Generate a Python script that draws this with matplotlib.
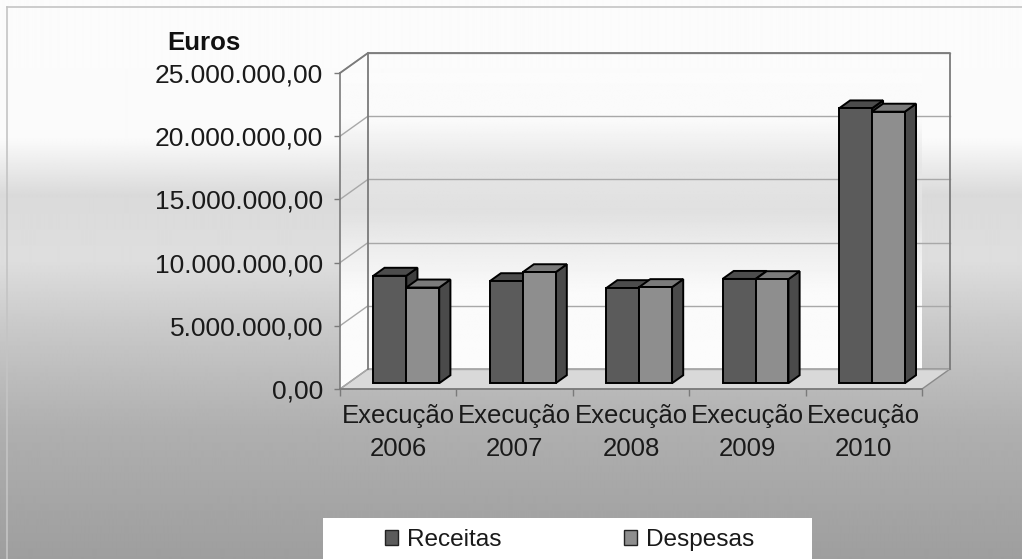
import numpy as np
import matplotlib
matplotlib.use("Agg")
import matplotlib.pyplot as plt
from matplotlib.patches import Polygon, Rectangle, Patch
from matplotlib.ticker import FuncFormatter, FixedLocator

plt.rcParams['font.family'] = ['Liberation Sans', 'DejaVu Sans']

# ---- data ----
categories = ["Execução\n2006", "Execução\n2007", "Execução\n2008", "Execução\n2009", "Execução\n2010"]
receitas = [8.50e6, 8.07e6, 7.52e6, 8.25e6, 21.74e6]
despesas = [7.57e6, 8.78e6, 7.60e6, 8.23e6, 21.48e6]
series_names = ["Receitas", "Despesas"]
yticks = [0, 5e6, 10e6, 15e6, 20e6, 25e6]

# ---- style ----
W, H = 1022, 559
fig = plt.figure(figsize=(W / 100, H / 100), dpi=100)

# figure background gradient
bg = fig.add_axes([0, 0, 1, 1], zorder=-10)
ys = np.arange(H)
prof = np.interp(ys, [0, 140, 195, 260, 330, 430, 559], [252, 250, 218, 222, 200, 175, 158])
img = np.repeat(prof[:, None], 4, axis=1)
bg.imshow(img, cmap='gray', vmin=0, vmax=255, aspect='auto', extent=[0, 1, 0, 1], interpolation='bilinear')
bg.plot([7 / W, 1], [1 - 7 / H, 1 - 7 / H], color='#c4c4c4', lw=1.2, transform=bg.transAxes)
bg.plot([7 / W, 7 / W], [0, 1 - 7 / H], color='#c4c4c4', lw=1.2, transform=bg.transAxes)
bg.set_xlim(0, 1); bg.set_ylim(0, 1)
bg.axis('off')

ax = fig.add_axes([340 / W, (H - 389) / H, 582 / W, 316 / H])
ax.set_facecolor('none')
ymax = 25e6
n = len(categories)
x_lo, x_hi = -0.5, n - 0.5
Dx, Dy = 0.24, 1.58e6        # full depth of the 3-D box
f0, fd = 0.29, 0.40          # bar front plane / bar depth as fraction of box depth
w = 0.283                    # bar width

# walls gradient (clipped to back + side wall)
wall = Polygon([(x_lo, 0), (x_lo + Dx, Dy), (x_hi + Dx, Dy), (x_hi + Dx, ymax + Dy),
                (x_lo + Dx, ymax + Dy), (x_lo, ymax)], closed=True, facecolor='none',
               edgecolor='none', transform=ax.transData, clip_on=False)
ax.add_patch(wall)
vals = np.linspace(ymax + Dy, 0, 300)
wprof = np.interp(vals, [0, 7.8e6, 11.4e6, 14.2e6, 17.7e6, 21.3e6, 27e6],
                  [252, 250, 236, 224, 230, 250, 252])
wim = ax.imshow(np.repeat(wprof[:, None], 4, axis=1), cmap='gray', vmin=0, vmax=255,
                aspect='auto', extent=[x_lo, x_hi + Dx, 0, ymax + Dy], interpolation='bilinear',
                zorder=0)
wim.set_clip_path(wall)

# floor
ax.add_patch(Polygon([(x_lo, 0), (x_hi, 0), (x_hi + Dx, Dy), (x_lo + Dx, Dy)], closed=True,
                     facecolor='#d9d9d9', edgecolor='#8a8a8a', lw=1.0, clip_on=False, zorder=1))

# gridlines
for v in yticks:
    ax.plot([x_lo + Dx, x_hi + Dx], [v + Dy, v + Dy], color='#a8a8a8', lw=1.0, clip_on=False, zorder=1)
    ax.plot([x_lo, x_lo + Dx], [v, v + Dy], color='#a8a8a8', lw=1.0, clip_on=False, zorder=1)
ax.plot([x_lo + Dx, x_lo + Dx, x_hi + Dx, x_hi + Dx], [Dy, ymax + Dy, ymax + Dy, Dy],
        color='#7a7a7a', lw=1.3, clip_on=False, zorder=1)
ax.plot([x_lo, x_lo + Dx], [ymax, ymax + Dy], color='#7a7a7a', lw=1.3, clip_on=False, zorder=1)

# bars
colors = {
    0: dict(front='#5b5b5b', top='#4c4c4c', side='#3e3e3e'),
    1: dict(front='#8e8e8e', top='#7a7a7a', side='#4a4a4a'),
}
ddx, ddy = fd * Dx, fd * Dy
z = 3
for i in range(n):
    c = i + f0 * Dx
    y0 = f0 * Dy
    for s, data in enumerate([receitas, despesas]):
        v = data[i]
        x0 = c - w + s * w
        col = colors[s]
        kw = dict(edgecolor='black', lw=1.4, clip_on=False, joinstyle='miter')
        ax.add_patch(Polygon([(x0 + w, y0), (x0 + w + ddx, y0 + ddy), (x0 + w + ddx, y0 + v + ddy),
                              (x0 + w, y0 + v)], closed=True, facecolor=col['side'], zorder=z, **kw))
        ax.add_patch(Polygon([(x0, y0 + v), (x0 + w, y0 + v), (x0 + w + ddx, y0 + v + ddy),
                              (x0 + ddx, y0 + v + ddy)], closed=True, facecolor=col['top'], zorder=z, **kw))
        ax.add_patch(Rectangle((x0, y0), w, v, facecolor=col['front'], zorder=z, **kw))
        z += 1

ax.set_xlim(x_lo, x_hi)
ax.set_ylim(0, ymax)
for sp in ['top', 'right']:
    ax.spines[sp].set_visible(False)
ax.spines['left'].set_color('#7a7a7a')
ax.spines['bottom'].set_color('#7a7a7a')
ax.spines['left'].set_linewidth(1.2)
ax.spines['bottom'].set_linewidth(1.2)

ax.set_yticks(yticks)
ax.yaxis.set_major_formatter(FuncFormatter(
    lambda v, p: f"{v:,.2f}".replace(',', 'X').replace('.', ',').replace('X', '.')))
ax.tick_params(axis='y', length=4, width=1, color='#7a7a7a', pad=8, labelsize=19, labelcolor='#1a1a1a')

ax.set_xticks(range(n))
ax.set_xticklabels(categories, linespacing=1.45)
ax.tick_params(axis='x', which='major', length=0, pad=11, labelsize=18.5, labelcolor='#1a1a1a')
ax.xaxis.set_minor_locator(FixedLocator(np.arange(x_lo, x_hi + 0.01, 1.0)))
ax.tick_params(axis='x', which='minor', length=5, width=1, color='#7a7a7a')

fig.text(167 / W, 1 - 50 / H, "Euros", fontsize=18.6, fontweight='bold', va='baseline', ha='left',
         color='#111111')

# legend
fig.patches.append(Rectangle((323 / W, 0), (812 - 323) / W, (H - 518) / H, transform=fig.transFigure,
                             facecolor='white', edgecolor='none', zorder=1))
handles = [Patch(facecolor=colors[s]['front'], edgecolor='#222222', lw=1.0) for s in range(2)]
leg = fig.legend(handles, series_names, loc='center left', bbox_to_anchor=(385 / W, 1 - 540 / H),
                 ncol=2, frameon=False, fontsize=17.6, handlelength=0.53, handleheight=0.53,
                 handletextpad=0.37, columnspacing=5.0, borderpad=0, borderaxespad=0)
for t in leg.get_texts():
    t.set_color('#1a1a1a')
leg.set_zorder(5)

fig.savefig("out.png", dpi=100)
